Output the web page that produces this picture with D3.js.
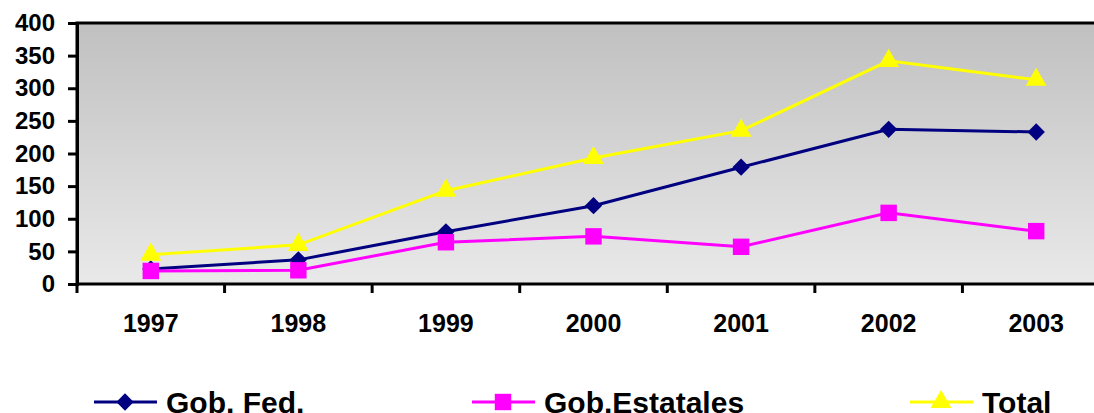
<!DOCTYPE html>
<html>
<head>
<meta charset="utf-8">
<script src="https://cdn.jsdelivr.net/npm/d3@7"></script>
<style>
  body { margin: 0; background: #fff; }
  svg { display: block; font-family: "Liberation Sans", Arial, sans-serif; font-weight: bold; }
</style>
</head>
<body>
<div id="chart"></div>
<script>
var years = ['1997', '1998', '1999', '2000', '2001', '2002', '2003']
var gobFed = [23, 37, 80, 120, 179, 237, 233]
var gobEstatales = [20, 21, 64, 73, 57, 109, 81]
var total = [45, 60, 143, 193, 235, 342, 313]
var yTicks = [0, 50, 100, 150, 200, 250, 300, 350, 400]

// diamond = square turned 45 degrees (d3's own diamond is too narrow)
var seriesList = [
  {name: 'Gob. Fed.', values: gobFed, color: '#000080', symbol: d3.symbolSquare, size: 150, rotate: 45},
  {name: 'Gob.Estatales', values: gobEstatales, color: '#ff00ff', symbol: d3.symbolSquare, size: 270, rotate: 0},
  {name: 'Total', values: total, color: '#ffff00', symbol: d3.symbolTriangle, size: 190, rotate: 0}
]

var width = 1094, height = 413
// note: "top" is taken by window.top, so plot edges get their own names
var plotLeft = 77, plotTop = 23, plotBottom = 284, plotRight = 1110

var svg = d3.select('#chart').append('svg').attr('width', width).attr('height', height)

var x = d3.scaleBand().domain(years).range([plotLeft, plotRight])
var y = d3.scaleLinear().domain([0, 400]).range([plotBottom, plotTop])

// grey gradient background of plot area
var grad = svg.append('defs').append('linearGradient').attr('id', 'bg')
  .attr('x1', 0).attr('y1', 0).attr('x2', 0).attr('y2', 1)
grad.append('stop').attr('offset', '0%').attr('stop-color', '#c0c0c0')
grad.append('stop').attr('offset', '100%').attr('stop-color', '#e9e9e9')

svg.append('rect').attr('x', plotLeft).attr('y', plotTop)
  .attr('width', plotRight - plotLeft).attr('height', plotBottom - plotTop)
  .attr('fill', 'url(#bg)').attr('stroke', '#000').attr('stroke-width', 3)

// y axis
var yAxis = svg.append('g').attr('transform', 'translate(' + plotLeft + ',0)')
  .call(d3.axisLeft(y).tickValues(yTicks).tickSize(9).tickPadding(13))
yAxis.select('.domain').attr('stroke-width', 3)
yAxis.selectAll('.tick line').attr('stroke-width', 3)
yAxis.selectAll('text').attr('font-size', 24).attr('font-weight', 'bold').attr('fill', '#000')
  .attr('font-family', '"Liberation Sans", Arial, sans-serif')

// x axis: ticks sit between categories
var bounds = years.map(function(d) { return x(d) }).concat([plotRight])
svg.append('g').selectAll('line').data(bounds).join('line')
  .attr('x1', d => d).attr('x2', d => d).attr('y1', plotBottom).attr('y2', plotBottom + 9)
  .attr('stroke', '#000').attr('stroke-width', 3)
svg.append('g').selectAll('text').data(years).join('text')
  .attr('x', d => x(d) + x.bandwidth() / 2).attr('y', 332)
  .attr('text-anchor', 'middle').attr('font-size', 25).text(d => d)

// lines and markers
var line = d3.line().x((d, i) => x(years[i]) + x.bandwidth() / 2).y(d => y(d))
seriesList.forEach(function(s) {
  svg.append('path').datum(s.values).attr('d', line)
    .attr('fill', 'none').attr('stroke', s.color).attr('stroke-width', 3)
  svg.append('g').selectAll('path').data(s.values).join('path')
    .attr('transform', (d, i) => 'translate(' + (x(years[i]) + x.bandwidth() / 2) + ',' + y(d) + ') rotate(' + s.rotate + ')')
    .attr('d', d3.symbol().type(s.symbol).size(s.size))
    .attr('fill', s.color)
})

// legend
var legendX = [94, 472, 910]
var legend = svg.append('g').selectAll('g').data(seriesList).join('g')
  .attr('transform', (d, i) => 'translate(' + legendX[i] + ',402)')
legend.append('line').attr('x1', 0).attr('x2', 63).attr('y1', 0).attr('y2', 0)
  .attr('stroke', d => d.color).attr('stroke-width', 3)
legend.append('path').attr('transform', d => 'translate(31,0) rotate(' + d.rotate + ')')
  .attr('d', d => d3.symbol().type(d.symbol).size(d.size)())
  .attr('fill', d => d.color)
legend.append('text').attr('x', 72).attr('y', 11).attr('font-size', 30).text(d => d.name)
</script>
</body>
</html>
